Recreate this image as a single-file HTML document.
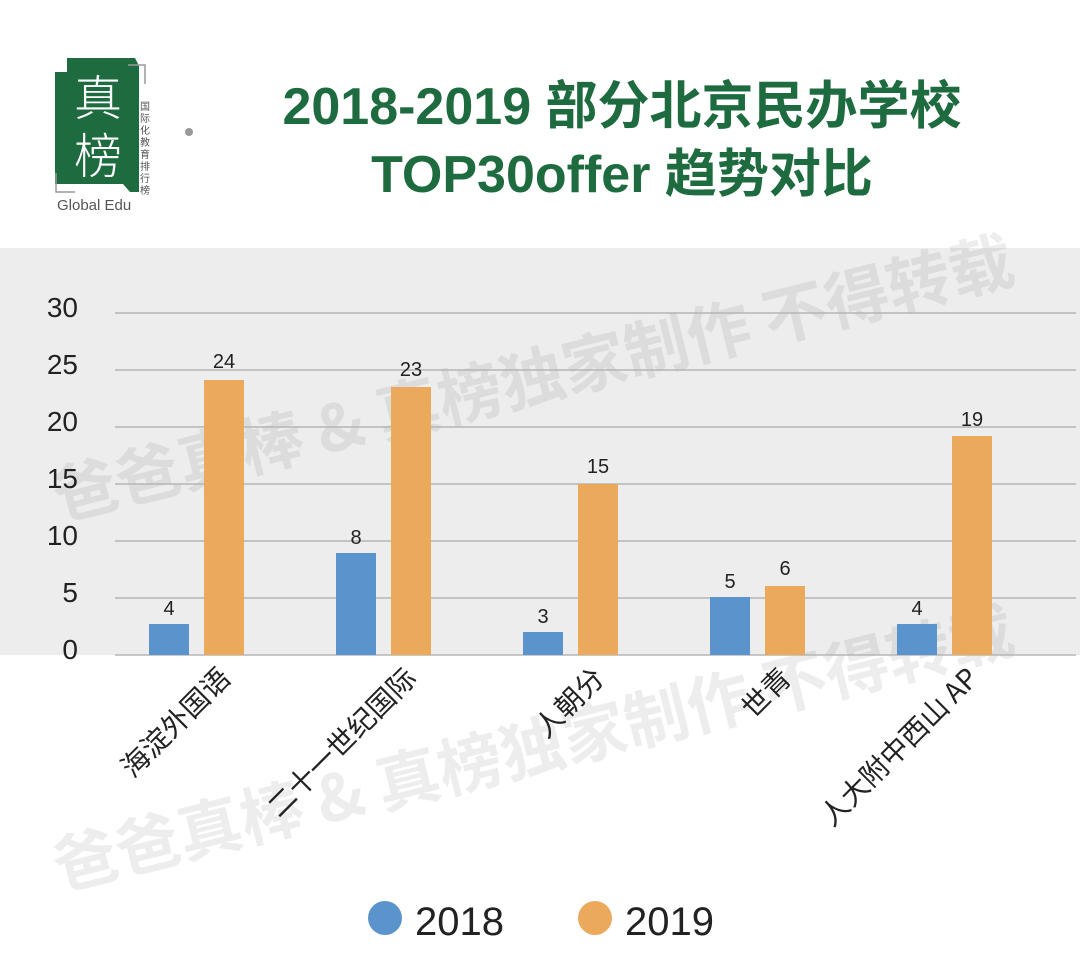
<!DOCTYPE html>
<html><head><meta charset="utf-8"><style>
body{margin:0;width:1080px;height:959px;background:#fff;overflow:hidden;font-family:"Liberation Sans","Noto Sans CJK SC",sans-serif;}
</style></head><body>
<svg width="1080" height="959" xmlns="http://www.w3.org/2000/svg" font-family="Liberation Sans, Noto Sans CJK SC, sans-serif">
<rect x="0" y="248" width="1080" height="407" fill="#ededed"/>
<!-- logo -->
<polygon points="67,58 135,58 139,66 139,192 130,192 123,184 55,184 55,72 67,72" fill="#1e6b40"/>
<polyline points="128,65 145,65 145,84" fill="none" stroke="#999" stroke-width="1.5"/>
<polyline points="56,173 56,192 75,192" fill="none" stroke="#999" stroke-width="1.5"/>
<text x="98" y="115" font-size="48" fill="#fff" text-anchor="middle" font-family="Noto Sans CJK SC, sans-serif" font-weight="300">真</text>
<text x="98" y="173" font-size="48" fill="#fff" text-anchor="middle" font-family="Noto Sans CJK SC, sans-serif" font-weight="300">榜</text>
<text font-size="10" fill="#555" font-family="Noto Sans CJK SC, sans-serif"><tspan x="140" y="110">国</tspan><tspan x="140" y="122">际</tspan><tspan x="140" y="134">化</tspan><tspan x="140" y="146">教</tspan><tspan x="140" y="158">育</tspan><tspan x="140" y="170">排</tspan><tspan x="140" y="182">行</tspan><tspan x="140" y="194">榜</tspan></text>
<text x="57" y="210" font-size="15" fill="#555">Global Edu</text>
<circle cx="189" cy="132" r="4" fill="#999"/>
<text x="622" y="124" font-size="52" font-weight="bold" fill="#1e6b40" text-anchor="middle">2018-2019 部分北京民办学校</text>
<text x="622" y="192" font-size="52" font-weight="bold" fill="#1e6b40" text-anchor="middle">TOP30offer 趋势对比</text>
<!-- watermarks -->
<g fill="#000" fill-opacity="0.07" font-size="64" font-weight="bold" font-family="Noto Sans CJK SC, sans-serif">
<text x="60" y="520" transform="rotate(-14 60 520)">爸爸真棒 &amp; 真榜独家制作 不得转载</text>
<text x="60" y="890" transform="rotate(-14 60 890)">爸爸真棒 &amp; 真榜独家制作 不得转载</text>
</g>
<!-- grid -->
<g stroke="#b5b5b5" stroke-width="1.5">
<line x1="115" x2="1076" y1="313" y2="313"/><line x1="115" x2="1076" y1="370" y2="370"/>
<line x1="115" x2="1076" y1="427" y2="427"/><line x1="115" x2="1076" y1="484" y2="484"/>
<line x1="115" x2="1076" y1="541" y2="541"/><line x1="115" x2="1076" y1="598" y2="598"/>
<line x1="115" x2="1076" y1="655" y2="655"/>
</g>
<g font-size="28" fill="#222" text-anchor="end">
<text x="78" y="317">30</text><text x="78" y="374">25</text><text x="78" y="431">20</text>
<text x="78" y="488">15</text><text x="78" y="545">10</text><text x="78" y="602">5</text><text x="78" y="659">0</text>
</g>
<g fill="#5b93cc">
<rect x="149" y="624" width="40" height="31"/><rect x="336" y="553" width="40" height="102"/>
<rect x="523" y="632" width="40" height="23"/><rect x="710" y="597" width="40" height="58"/>
<rect x="897" y="624" width="40" height="31"/>
</g>
<g fill="#eba95b">
<rect x="204" y="380" width="40" height="275"/><rect x="391" y="387" width="40" height="268"/>
<rect x="578" y="484" width="40" height="171"/><rect x="765" y="586" width="40" height="69"/>
<rect x="952" y="436" width="40" height="219"/>
</g>
<g font-size="20" fill="#222" text-anchor="middle">
<text x="169" y="615">4</text><text x="224" y="368">24</text>
<text x="356" y="544">8</text><text x="411" y="376">23</text>
<text x="543" y="623">3</text><text x="598" y="473">15</text>
<text x="730" y="588">5</text><text x="785" y="575">6</text>
<text x="917" y="615">4</text><text x="972" y="426">19</text>
</g>
<g font-size="28" fill="#222" text-anchor="end" font-family="Noto Sans CJK SC, sans-serif">
<text transform="translate(232,680) rotate(-45)">海淀外国语</text>
<text transform="translate(418,680) rotate(-45)">二十一世纪国际</text>
<text transform="translate(606,680) rotate(-45)">人朝分</text>
<text transform="translate(793,680) rotate(-45)">世青</text>
<text transform="translate(980,680) rotate(-45)">人大附中西山 AP</text>
</g>
<circle cx="385" cy="918" r="17" fill="#5b93cc"/>
<text x="415" y="935" font-size="40" fill="#222">2018</text>
<circle cx="595" cy="918" r="17" fill="#eba95b"/>
<text x="625" y="935" font-size="40" fill="#222">2019</text>
</svg>
</body></html>
